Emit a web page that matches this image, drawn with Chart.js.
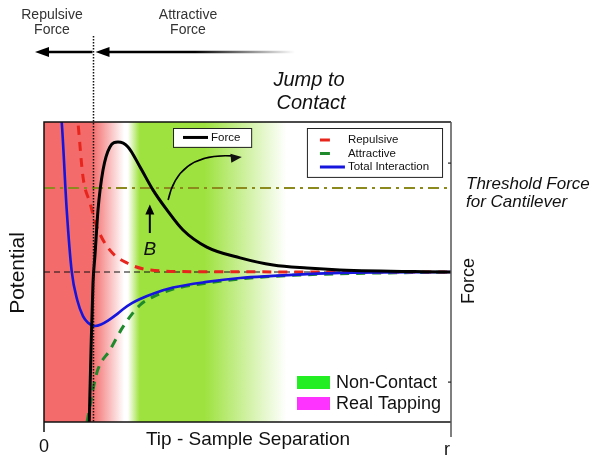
<!DOCTYPE html>
<html>
<head>
<meta charset="utf-8">
<script src="https://cdn.jsdelivr.net/npm/chart.js@4/dist/chart.umd.min.js"></script>
<style>
  html, body { margin: 0; padding: 0; background: #fff; }
  #wrap { width: 596px; height: 461px; }
</style>
</head>
<body>
<div id="wrap"><canvas id="c" width="596" height="461"></canvas></div>
<script>
// Tip–sample separation (x, 0 … r) against potential / force (y, arbitrary units).
// Each curve is a list of [separation, value] samples.
const totalInteraction = [
  [0.40, 5.4], [0.435, 5.0], [0.558, 2.07], [0.68, 0.03], [0.82, -0.95], [0.958, -1.47],
  [1.081, -1.69], [1.253, -1.8], [1.40, -1.75], [1.572, -1.62], [1.769, -1.43], [1.94, -1.24],
  [2.16, -1.04], [2.36, -0.9], [2.73, -0.7], [3.17, -0.52], [4.0, -0.33], [4.82, -0.2],
  [5.63, -0.13], [6.46, -0.07], [7.27, -0.03], [10.0, 0]
];
const repulsive = [
  [0.80, 5.4], [0.835, 4.97], [0.958, 3.17], [1.13, 2.3], [1.30, 1.5], [1.62, 0.73],
  [2.04, 0.3], [2.6, 0.07], [3.83, 0.01], [10.0, 0]
];
const attractive = [
  [1.057, -5.0], [1.295, -3.37], [1.62, -2.6], [1.94, -1.83], [2.36, -1.1], [2.68, -0.83],
  [3.17, -0.57], [4.0, -0.37], [4.82, -0.23], [6.29, -0.1], [10.0, 0]
];
const force = [
  [1.11, -5.1], [1.155, -2.6], [1.204, -0.37], [1.253, 0.57], [1.327, 2.07], [1.45, 3.4],
  [1.62, 4.17], [1.818, 4.33], [2.064, 4.17], [2.36, 3.5], [2.68, 2.73], [3.02, 2.07],
  [3.415, 1.4], [4.0, 0.83], [4.82, 0.47], [5.63, 0.23], [6.46, 0.13], [7.27, 0.07], [10.0, 0]
];
const zeroLevel = 0;
const thresholdForce = 2.8;
const separationRange = [0, 10];
const valueRange = [-5, 5];
const separationTicks = ['0', 'r'];

// Regions of the separation axis
const contactSeparation = 1.2;      // boundary between repulsive and attractive force
const tappingZone = [1.18, 1.97];   // solid red up to first value, fading out by second
const nonContactZone = [2.06, 2.35, 3.95, 5.95]; // fade in, solid, fade out

const toPts = arr => arr.map(([x, y]) => ({ x, y }));
const FONT = '"Liberation Sans", Arial, sans-serif';

const RED = '#f36b6b';
const GREEN = '#9ee23f';

const backdrop = {
  id: 'backdrop',
  beforeDatasetsDraw(chart) {
    const { ctx, chartArea: a, scales: { x } } = chart;
    const w = a.right - a.left;
    const stop = v => Math.min(1, Math.max(0, (x.getPixelForValue(v) - a.left) / w));
    const g = ctx.createLinearGradient(a.left, 0, a.right, 0);
    g.addColorStop(0, RED);
    g.addColorStop(stop(tappingZone[0]), RED);
    g.addColorStop(stop(tappingZone[1]), '#ffffff');
    g.addColorStop(stop(nonContactZone[0]), '#ffffff');
    g.addColorStop(stop(nonContactZone[1]), GREEN);
    g.addColorStop(stop(nonContactZone[2]), GREEN);
    g.addColorStop(stop(nonContactZone[3]), '#ffffff');
    g.addColorStop(1, '#ffffff');
    ctx.save();
    ctx.fillStyle = g;
    ctx.fillRect(a.left, a.top, w, a.bottom - a.top);
    ctx.restore();
  }
};

function arrowHead(ctx, tx, ty, ang, len, half) {
  ctx.beginPath();
  ctx.moveTo(tx, ty);
  ctx.lineTo(tx - len * Math.cos(ang) + half * Math.sin(ang), ty - len * Math.sin(ang) - half * Math.cos(ang));
  ctx.lineTo(tx - len * Math.cos(ang) - half * Math.sin(ang), ty - len * Math.sin(ang) + half * Math.cos(ang));
  ctx.closePath();
  ctx.fill();
}

function text(ctx, s, x, y, font, color, align) {
  ctx.font = font;
  ctx.fillStyle = color || '#000';
  ctx.textAlign = align || 'center';
  ctx.textBaseline = 'middle';
  ctx.fillText(s, x, y);
}

const annotations = {
  id: 'annotations',
  afterDraw(chart) {
    const { ctx, chartArea: a, scales: { x, y } } = chart;
    const X = v => x.getPixelForValue(v);
    const Y = v => y.getPixelForValue(v);
    const ds = chart.data.datasets;
    ctx.save();

    // frame and axes
    ctx.strokeStyle = '#111';
    ctx.lineWidth = 1.5;
    ctx.beginPath();
    ctx.moveTo(a.left, a.bottom + 10); ctx.lineTo(a.left, a.top); ctx.lineTo(a.right, a.top);
    ctx.stroke();
    ctx.beginPath();
    ctx.moveTo(a.left, a.bottom); ctx.lineTo(a.right, a.bottom);
    ctx.stroke();
    ctx.strokeStyle = '#555';
    ctx.beginPath();
    ctx.moveTo(a.right, a.top); ctx.lineTo(a.right, a.bottom + 15);
    ctx.stroke();
    ctx.lineWidth = 1.2;
    ctx.strokeStyle = '#222';
    [3.63, -3.67].forEach(v => {
      ctx.beginPath(); ctx.moveTo(a.right - 3, Y(v)); ctx.lineTo(a.right, Y(v)); ctx.stroke();
    });

    // dotted contact line
    const cx = Math.round(X(contactSeparation)) + 0.5;
    ctx.strokeStyle = '#111';
    ctx.lineWidth = 1.5;
    ctx.setLineDash([1.5, 1.5]);
    ctx.beginPath(); ctx.moveTo(cx, 36); ctx.lineTo(cx, a.bottom); ctx.stroke();
    ctx.setLineDash([]);

    // force direction arrows
    const ay = 52;
    ctx.lineWidth = 2.6;
    ctx.strokeStyle = '#000';
    ctx.fillStyle = '#000';
    ctx.beginPath(); ctx.moveTo(cx - 1, ay); ctx.lineTo(44, ay); ctx.stroke();
    arrowHead(ctx, 35, ay, Math.PI, 14, 5);
    const fade = ctx.createLinearGradient(95, 0, 295, 0);
    fade.addColorStop(0, '#000');
    fade.addColorStop(0.5, '#000');
    fade.addColorStop(1, 'rgba(0,0,0,0)');
    ctx.strokeStyle = fade;
    ctx.beginPath(); ctx.moveTo(104, ay); ctx.lineTo(295, ay); ctx.stroke();
    arrowHead(ctx, cx + 2, ay, Math.PI, 14, 5);

    text(ctx, 'Repulsive', 52, 15, '14px ' + FONT, '#333');
    text(ctx, 'Force', 52, 30, '14px ' + FONT, '#333');
    text(ctx, 'Attractive', 188, 15, '14px ' + FONT, '#333');
    text(ctx, 'Force', 188, 30, '14px ' + FONT, '#333');

    text(ctx, 'Jump to', 309, 80, 'italic 20px ' + FONT, '#111');
    text(ctx, 'Contact', 311, 103, 'italic 20px ' + FONT, '#111');

    text(ctx, 'Threshold Force', 466, 184, 'italic 17px ' + FONT, '#111', 'left');
    text(ctx, 'for Cantilever', 466, 202, 'italic 17px ' + FONT, '#111', 'left');

    // "Force" key box
    const fx0 = X(3.17), fy0 = Y(4.8), fx1 = X(5.09), fy1 = Y(4.17);
    ctx.fillStyle = '#fff';
    ctx.fillRect(fx0, fy0, fx1 - fx0, fy1 - fy0);
    ctx.strokeStyle = '#222'; ctx.lineWidth = 1;
    ctx.strokeRect(fx0 + 0.5, fy0 + 0.5, fx1 - fx0, fy1 - fy0);
    const fd = ds[0];
    ctx.strokeStyle = fd.borderColor; ctx.lineWidth = 3;
    ctx.beginPath(); ctx.moveTo(fx0 + 10, (fy0 + fy1) / 2); ctx.lineTo(fx0 + 35, (fy0 + fy1) / 2); ctx.stroke();
    text(ctx, fd.label, fx0 + 38, (fy0 + fy1) / 2, '11.5px ' + FONT, '#111', 'left');

    // potential curves key box
    const lx0 = X(6.46), ly0 = Y(4.8), lx1 = X(9.78), ly1 = Y(3.17);
    ctx.fillStyle = '#fff';
    ctx.fillRect(lx0, ly0, lx1 - lx0, ly1 - ly0);
    ctx.strokeStyle = '#222'; ctx.lineWidth = 1;
    ctx.strokeRect(lx0 + 0.5, ly0 + 0.5, lx1 - lx0, ly1 - ly0);
    [[ds[2], 10], [ds[3], 10], [ds[1], 25]].forEach(([d, len], i) => {
      const yy = ly0 + 12 + i * 13.5;
      ctx.strokeStyle = d.borderColor; ctx.lineWidth = 3;
      ctx.beginPath(); ctx.moveTo(lx0 + 13, yy); ctx.lineTo(lx0 + 13 + len, yy); ctx.stroke();
      text(ctx, d.label, lx0 + 41, yy, '11.5px ' + FONT, '#111', 'left');
    });

    // "B" marker with arrow up to the threshold crossing
    ctx.fillStyle = '#000'; ctx.strokeStyle = '#000'; ctx.lineWidth = 2;
    ctx.beginPath(); ctx.moveTo(X(2.6), Y(1.3)); ctx.lineTo(X(2.6), Y(2.05)); ctx.stroke();
    arrowHead(ctx, X(2.6), Y(2.25), -Math.PI / 2, 10, 4.5);
    text(ctx, 'B', X(2.6), Y(0.73), 'italic 19px ' + FONT, '#111');

    // jump-to-contact curved arrow
    ctx.lineWidth = 1.6;
    ctx.beginPath();
    ctx.moveTo(X(3.05), Y(2.4));
    ctx.bezierCurveTo(X(3.2), Y(3.35), X(3.64), Y(3.95), X(4.62), Y(3.87));
    ctx.stroke();
    arrowHead(ctx, X(4.86), Y(3.83), -0.1, 11, 4.5);

    // region key
    const kx = 297;
    ctx.fillStyle = '#22ee22'; ctx.fillRect(kx, 376, 33, 13);
    ctx.fillStyle = '#ff33ff'; ctx.fillRect(kx, 397, 33, 13);
    text(ctx, 'Non-Contact', kx + 39, 383, '18px ' + FONT, '#111', 'left');
    text(ctx, 'Real Tapping', kx + 39, 404, '18px ' + FONT, '#111', 'left');

    // axis titles and end labels
    text(ctx, 'Tip - Sample Separation', 248, 440, '19px ' + FONT, '#111');
    text(ctx, separationTicks[0], X(separationRange[0]), 447, '18px ' + FONT, '#111');
    text(ctx, separationTicks[1], X(separationRange[1]) - 4, 450, '18px ' + FONT, '#111');
    ctx.save();
    ctx.translate(18, 273); ctx.rotate(-Math.PI / 2);
    text(ctx, 'Potential', 0, 0, '21px ' + FONT, '#111');
    ctx.restore();
    ctx.save();
    ctx.translate(469, 281); ctx.rotate(-Math.PI / 2);
    text(ctx, 'Force', 0, 0, '18px ' + FONT, '#111');
    ctx.restore();

    ctx.restore();
  }
};

const flat = v => [{ x: separationRange[0], y: v }, { x: separationRange[1], y: v }];

new Chart(document.getElementById('c'), {
  type: 'line',
  data: {
    datasets: [
      { label: 'Force', data: toPts(force), borderColor: '#000', borderWidth: 3, order: 0 },
      { label: 'Total Interaction', data: toPts(totalInteraction), borderColor: '#1515dd', borderWidth: 2.6, order: 1 },
      { label: 'Repulsive', data: toPts(repulsive), borderColor: '#e8251d', borderWidth: 3, borderDash: [9, 7], order: 2 },
      { label: 'Attractive', data: toPts(attractive), borderColor: '#1e8a2b', borderWidth: 3, borderDash: [9, 7], order: 3 },
      { label: 'zero', data: flat(zeroLevel), borderColor: '#111', borderWidth: 1.2, borderDash: [6, 4], order: 4, tension: 0 },
      { label: 'threshold', data: flat(thresholdForce), borderColor: '#8c8a1c', borderWidth: 1.8, borderDash: [11, 5, 3, 5], order: 5, tension: 0 }
    ]
  },
  options: {
    responsive: false,
    animation: false,
    events: [],
    layout: { padding: { left: 44, top: 122, right: 145, bottom: 39 } },
    elements: {
      point: { radius: 0 },
      line: { cubicInterpolationMode: 'monotone', fill: false, borderCapStyle: 'butt' }
    },
    datasets: { line: { clip: 0 } },
    scales: {
      x: { type: 'linear', min: separationRange[0], max: separationRange[1], display: false },
      y: { type: 'linear', min: valueRange[0], max: valueRange[1], display: false }
    },
    plugins: { legend: { display: false }, tooltip: { enabled: false } }
  },
  plugins: [backdrop, annotations]
});
</script>
</body>
</html>
